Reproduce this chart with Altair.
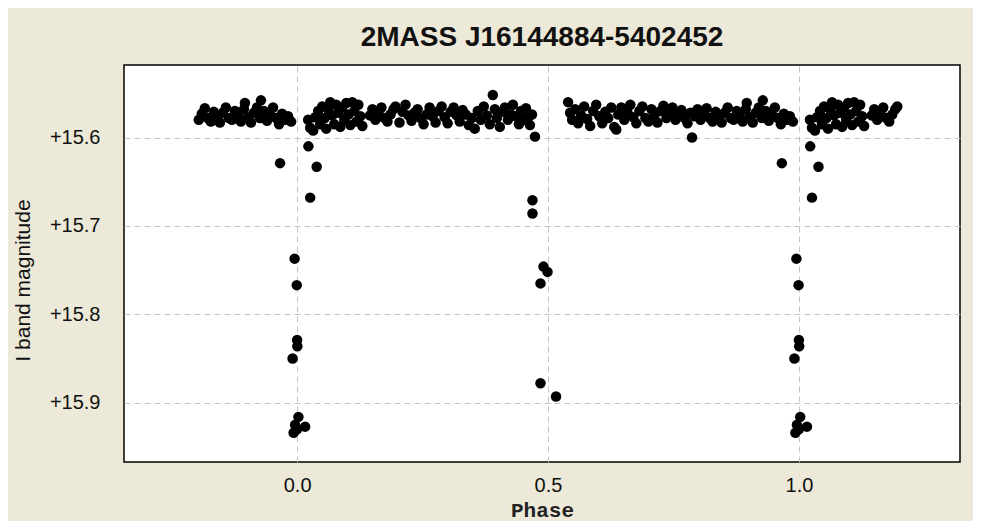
import altair as alt
import pandas as pd

chart_title = "2MASS J16144884-5402452"
x_title = "Phase"
y_title = "I band magnitude"
x_ticks = [0.0, 0.5, 1.0]
y_ticks = [15.6, 15.7, 15.8, 15.9]

# out-of-eclipse observations (phase in [0,1))
ooe_phase = [
    0.022, 0.026, 0.032, 0.036, 0.042, 0.046, 0.050, 0.055, 0.058, 0.062,
    0.066, 0.070, 0.074, 0.078, 0.082, 0.086, 0.090, 0.094, 0.098, 0.102,
    0.106, 0.110, 0.114, 0.118, 0.122, 0.126, 0.130,
    0.145, 0.150, 0.156, 0.162, 0.168, 0.174, 0.180, 0.186, 0.192, 0.196,
    0.204, 0.210, 0.216, 0.222, 0.228, 0.234, 0.240, 0.246, 0.252, 0.258,
    0.264, 0.270, 0.276, 0.282, 0.288, 0.294, 0.300, 0.306, 0.312, 0.318,
    0.324, 0.330, 0.336, 0.342,
    0.348, 0.354, 0.360, 0.366, 0.372, 0.378, 0.384, 0.390, 0.394, 0.398,
    0.404, 0.408, 0.414, 0.420, 0.426, 0.430, 0.436, 0.442, 0.446, 0.452,
    0.456, 0.460, 0.464, 0.468,
    0.540, 0.544, 0.548, 0.554, 0.560, 0.566, 0.572, 0.578, 0.584, 0.590,
    0.596, 0.602, 0.608, 0.614, 0.620, 0.626, 0.632, 0.636, 0.640, 0.646,
    0.652, 0.658, 0.664, 0.670, 0.676, 0.682, 0.688, 0.694, 0.700,
    0.706, 0.712, 0.718, 0.724, 0.730, 0.736, 0.742, 0.748, 0.754, 0.760,
    0.766, 0.772, 0.778, 0.784, 0.787, 0.792, 0.798, 0.804, 0.810, 0.816,
    0.822, 0.828, 0.834, 0.840, 0.846, 0.852, 0.858, 0.864, 0.870, 0.876,
    0.882, 0.888, 0.894, 0.896, 0.902, 0.908, 0.914, 0.920, 0.926, 0.928,
    0.934, 0.940, 0.946, 0.952, 0.958, 0.964, 0.970, 0.976, 0.982, 0.988,
]
ooe_mag = [
    15.580, 15.589, 15.592, 15.577, 15.570, 15.585, 15.565, 15.578, 15.590, 15.568,
    15.560, 15.575, 15.585, 15.563, 15.572, 15.588, 15.566, 15.580, 15.561, 15.574,
    15.586, 15.560, 15.570, 15.582, 15.563, 15.576, 15.587,
    15.575, 15.568, 15.580, 15.572, 15.566, 15.578, 15.582, 15.574, 15.568, 15.565,
    15.583, 15.571, 15.563, 15.575, 15.581, 15.572, 15.568, 15.578, 15.585, 15.574,
    15.566, 15.576, 15.583, 15.570, 15.565, 15.577, 15.584, 15.571, 15.566, 15.575,
    15.582, 15.569, 15.574, 15.586,
    15.578, 15.590, 15.570, 15.580, 15.565, 15.575, 15.585, 15.552, 15.568, 15.578,
    15.588, 15.571, 15.566, 15.580, 15.574, 15.563, 15.576, 15.585, 15.570, 15.580,
    15.567, 15.578, 15.586, 15.574,
    15.560, 15.572, 15.580, 15.568, 15.584, 15.575, 15.565, 15.579, 15.587, 15.570,
    15.563, 15.576, 15.584, 15.571, 15.578, 15.566, 15.588, 15.591, 15.574, 15.566,
    15.580, 15.571, 15.563, 15.577, 15.584, 15.570, 15.565, 15.578, 15.582,
    15.568, 15.575, 15.583, 15.570, 15.564, 15.578, 15.572, 15.566, 15.580, 15.574,
    15.569, 15.578, 15.584, 15.572, 15.600, 15.576, 15.568, 15.580, 15.573, 15.567,
    15.578, 15.582, 15.571, 15.576, 15.583, 15.572, 15.566, 15.578, 15.580, 15.570,
    15.575, 15.582, 15.568, 15.561, 15.577, 15.583, 15.572, 15.566, 15.578, 15.558,
    15.570, 15.581, 15.574, 15.566, 15.578, 15.585, 15.573, 15.580, 15.576, 15.582,
]

# eclipse observations
ecl_phase = [
    0.966, 0.0225, 0.039, 0.026, 0.995, 0.9993, 0.000, 0.0005, 0.991,
    0.0026, 0.996, 0.016, 0.993, 0.000,
    0.474, 0.469, 0.469, 0.491, 0.499, 0.485, 0.485, 0.516,
]
ecl_mag = [
    15.629, 15.610, 15.633, 15.668, 15.737, 15.767, 15.829, 15.836, 15.850,
    15.916, 15.925, 15.927, 15.934, 15.930,
    15.599, 15.671, 15.686, 15.746, 15.752, 15.765, 15.878, 15.893,
]

rows = []
for p, m in zip(ooe_phase + ecl_phase, ooe_mag + ecl_mag):
    p = p % 1.0
    rows.append({"phase": p, "mag": m})
    if p >= 0.8:
        rows.append({"phase": p - 1.0, "mag": m})
    if p < 0.2:
        rows.append({"phase": p + 1.0, "mag": m})
df = pd.DataFrame(rows)

grid_color = "#C4C4C4"

chart = alt.Chart(df).mark_circle(size=110, color="black", opacity=1).encode(
    x=alt.X(
        "phase:Q",
        scale=alt.Scale(domain=[-0.345, 1.321], nice=False, zero=False),
        axis=alt.Axis(
            values=x_ticks, format=".1f", title=x_title,
            ticks=False, tickSize=0, domain=False,
            grid=True, gridColor=grid_color, gridDash=[6, 4], gridWidth=1,
            labelFont="Liberation Sans", labelFontSize=20, labelColor="#111111",
            labelPadding=13,
            titleFont="'Liberation Mono', 'Courier New', 'DejaVu Sans Mono', monospace",
            titleFontSize=21, titleFontWeight="bold",
            titleColor="#222222", titleBaseline="alphabetic", titleY=54,
        ),
    ),
    y=alt.Y(
        "mag:Q",
        scale=alt.Scale(domain=[15.518, 15.967], reverse=True, nice=False, zero=False),
        axis=alt.Axis(
            values=y_ticks, labelExpr="'+' + format(datum.value, '.1f')",
            title=y_title,
            ticks=False, tickSize=0, domain=False,
            grid=True, gridColor=grid_color, gridDash=[6, 4], gridWidth=1,
            labelFont="Liberation Sans", labelFontSize=20, labelColor="#111111",
            labelPadding=24,
            titleFont="Liberation Sans", titleFontSize=21, titleFontWeight="normal",
            titleColor="#111111", titleAngle=270, titleBaseline="alphabetic",
            titleX=-95, titleY=215, titleAlign="center",
        ),
    ),
).properties(
    width=836,
    height=397,
    title=alt.TitleParams(
        chart_title, font="Liberation Sans", fontSize=28, fontWeight="bold",
        color="#111111", anchor="middle", baseline="alphabetic", offset=18, dy=27,
    ),
    background="#ECE9D8",
    autosize=alt.AutoSizeParams(type="none"),
    padding={"left": 116, "top": 57, "right": 13, "bottom": 59},
).configure_view(
    fill="white", stroke="black", strokeWidth=1.5,
)

chart.save("out.html", embed_options={"renderer": "svg", "actions": False})
